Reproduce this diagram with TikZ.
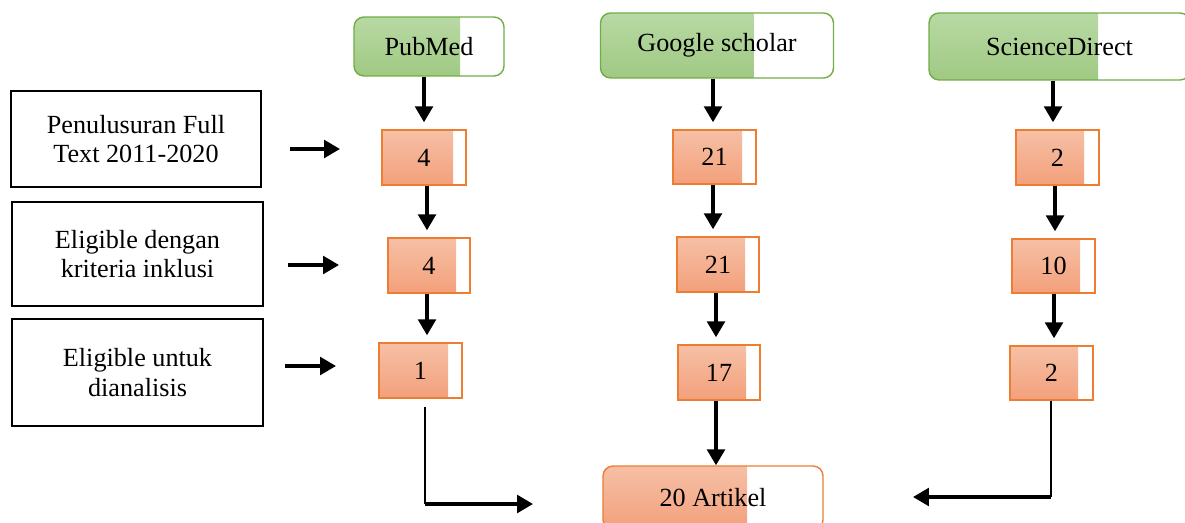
\documentclass[tikz,border=0pt]{standalone}
\usepackage{fontspec}
\setmainfont{Liberation Serif}
\usetikzlibrary{arrows.meta}

\definecolor{grtop}{RGB}{184,217,164}
\definecolor{grbot}{RGB}{160,201,131}
\definecolor{grline}{RGB}{112,173,71}
\definecolor{ortop}{RGB}{246,192,166}
\definecolor{orbot}{RGB}{243,160,123}
\definecolor{orline}{RGB}{237,125,49}

\tikzset{
	txt/.style={font=\fontsize{14.9}{17}\selectfont},
	stage/.style={txt, draw, line width=1.1pt, align=center, inner sep=0pt},
	green/.style={txt, draw=grline, line width=0.8pt, rounded corners=0.2cm, inner sep=0pt,
		path picture={\shade[sharp corners, top color=grtop, bottom color=grbot]
			(path picture bounding box.south west) rectangle ([xshift=-#1]path picture bounding box.north east);}},
	orange/.style={txt, draw=orline, line width=0.8pt, inner sep=0pt,
		path picture={\shade[sharp corners, top color=ortop, bottom color=orbot]
			(path picture bounding box.south west) rectangle ([xshift=-#1]path picture bounding box.north east);}},
	arr/.style={-{Triangle[length=9pt,width=10pt]}, line width=1.9pt, shorten >=4pt}
}

\begin{document}
\begin{tikzpicture}[x=0.02cm, y=-0.02cm]
	\useasboundingbox (0,0) rectangle (1185,523);

	% stages
	\node (st1) [stage, minimum width=5cm, minimum height=1.92cm] at (136,139) {Penulusuran Full\\Text 2011-2020};
	\node (st2) [stage, minimum width=5.02cm, minimum height=2.08cm] at (137.5,254) {Eligible dengan\\kriteria inklusi};
	\node (st3) [stage, minimum width=5.02cm, minimum height=2.14cm] at (137.5,372.5) {Eligible untuk\\dianalisis};

	\coordinate (st1a) at (290,149);
	\coordinate (st1b) at (347,149);
	\coordinate (st2a) at (288,265);
	\coordinate (st2b) at (346,265);
	\coordinate (st3a) at (285,366);
	\coordinate (st3b) at (343,366);

	% sources
	\node (pm) [green=0.88cm, minimum width=3cm, minimum height=1.18cm] at (429,46.5) {PubMed};
	\node (gs) [green=1.6cm, minimum width=4.66cm, minimum height=1.3cm] at (717,45.5) {Google scholar};
	\node (sd) [green=1.84cm, minimum width=5.22cm, minimum height=1.34cm] at (1059.5,46.5) {ScienceDirect};

	% counts
	\node (pm1) [orange=0.26cm, minimum width=1.68cm, minimum height=1.1cm] at (424,157.5) {4};
	\node (pm2) [orange=0.28cm, minimum width=1.64cm, minimum height=1.1cm] at (429,265.5) {4};
	\node (pm3) [orange=0.28cm, minimum width=1.66cm, minimum height=1.1cm] at (420.5,370.5) {1};

	\node (gs1) [orange=0.28cm, minimum width=1.66cm, minimum height=1.08cm] at (714.5,157) {21};
	\node (gs2) [orange=0.28cm, minimum width=1.64cm, minimum height=1.1cm] at (718,264.5) {21};
	\node (gs3) [orange=0.28cm, minimum width=1.64cm, minimum height=1.1cm] at (719,372.5) {17};

	\node (sd1) [orange=0.3cm, minimum width=1.66cm, minimum height=1.1cm] at (1057.5,157.5) {2};
	\node (sd2) [orange=0.3cm, minimum width=1.66cm, minimum height=1.08cm] at (1053.5,266) {10};
	\node (sd3) [orange=0.3cm, minimum width=1.66cm, minimum height=1.08cm] at (1051.5,373) {2};

	\node (art) [orange=1.52cm, rounded corners=0.2cm, minimum width=4.4cm, minimum height=1.28cm] at (713,498) {20 Artikel};

	\coordinate (pmbend) at (425,504);
	\coordinate (pmend) at (533,504);
	\coordinate (sdbend) at (1051,497);
	\coordinate (sdend) at (913,497);

	\path[arr] (st1a) edge (st1b);
	\path[arr] (st2a) edge (st2b);
	\path[arr] (st3a) edge (st3b);

	\path[arr] (pm.south -| pm1) edge (pm1.north);
	\path[arr] (pm1.south -| 427,0) edge (pm2.north -| 427,0);
	\path[arr] (pm2.south -| 427,0) edge (pm3.north -| 427,0);

	\path[arr] (gs.south -| 713,0) edge (gs1.north -| 713,0);
	\path[arr] (gs1.south -| 713,0) edge (gs2.north -| 713,0);
	\path[arr] (gs2.south -| 716,0) edge (gs3.north -| 716,0);
	\path[arr, shorten >=0pt] (gs3.south -| 716,0) edge (art.north -| 716,0);

	\path[arr] (sd.south -| 1053,0) edge (sd1.north -| 1053,0);
	\path[arr] (sd1.south -| 1055,0) edge (sd2.north -| 1055,0);
	\path[arr] (sd2.south -| 1054,0) edge (sd3.north -| 1054,0);

	\draw[line width=0.9pt] ([yshift=-5]pm3.south -| pmbend) -- (pmbend);
	\draw[arr, shorten >=0pt] (pmbend) -- (pmend);
	\draw[line width=0.9pt] (sd3.south -| sdbend) -- (sdbend);
	\draw[arr, shorten >=0pt] (sdbend) -- (sdend);

\end{tikzpicture}
\end{document}
